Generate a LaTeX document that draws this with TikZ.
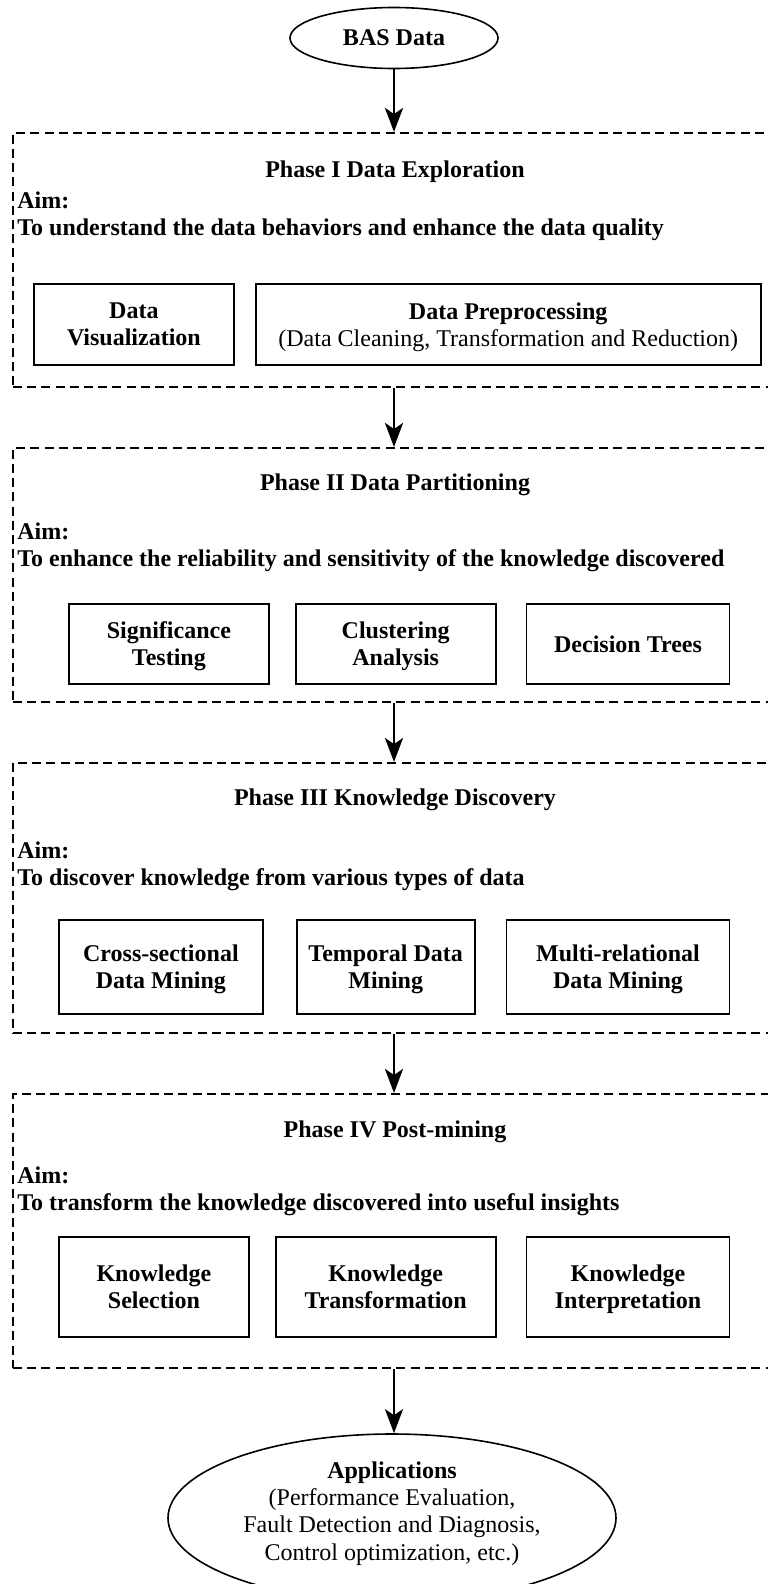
\documentclass[tikz,border=0pt]{standalone}
\usepackage{fontspec}
\setmainfont{Liberation Serif}
\usetikzlibrary{arrows.meta,positioning,shapes.geometric}

\begin{document}
\begin{tikzpicture}[
  x=0.5pt, y=-0.5pt,
  every node/.style={align=center, font=\fontsize{12}{13.6}\selectfont\bfseries},
  phase/.style={draw, dash pattern=on 4.5pt off 2.6pt, line width=0.9pt, minimum width=394pt, anchor=north west, inner sep=0pt},
  task/.style={draw, line width=0.9pt, minimum height=40.5pt, inner sep=2pt, text depth=0pt, anchor=north west},
  term/.style={draw, ellipse, line width=0.8pt, inner sep=0pt},
  aim/.style={anchor=north west, align=left, inner sep=0pt},
  flow/.style={-{Stealth[length=12pt, width=9pt, inset=3pt]}, line width=1.4pt},
]
  \useasboundingbox (0,0) rectangle (767,1584);

  \node[term, minimum width=104pt, minimum height=30.5pt] (bas) at (394,38) {BAS Data};

  % phase I
  \node[phase, minimum height=127pt] (p1) at (12,132) {};
  \node (t1) at (395,172) {Phase I Data Exploration};
  \node[aim] (a1) at (17,191) {Aim:\\To understand the data behaviors and enhance the data quality};
  \node[task, minimum width=100pt] (dv) at (33,283) {Data\\Visualization};
  \node[task, minimum width=252.5pt, right=10pt of dv] (dp) {Data Preprocessing\\\mdseries(Data Cleaning, Transformation and Reduction)};

  % phase II
  \node[phase, minimum height=127pt] (p2) at (12,447) {};
  \node (t2) at (395,485) {Phase II Data Partitioning};
  \node[aim] (a2) at (17,522) {Aim:\\To enhance the reliability and sensitivity of the knowledge discovered};
  \node[task, minimum width=100pt, minimum height=40pt] (sig) at (68,603) {Significance\\Testing};
  \node[task, minimum width=100pt, minimum height=40pt, right=12.5pt of sig] (clu) {Clustering\\Analysis};
  \node[task, minimum width=101.5pt, minimum height=40pt, right=14.5pt of clu] (dec) {Decision Trees};

  % phase III
  \node[phase, minimum height=135pt] (p3) at (12,762) {};
  \node (t3) at (395,800) {Phase III Knowledge Discovery};
  \node[aim] (a3) at (17,841) {Aim:\\To discover knowledge from various types of data};
  \node[task, minimum width=102pt, minimum height=47pt] (csm) at (58,919) {Cross-sectional\\Data Mining};
  \node[task, minimum width=89pt, minimum height=47pt, right=16pt of csm] (tdm) {Temporal Data\\Mining};
  \node[task, minimum width=111.5pt, minimum height=47pt, right=15pt of tdm] (mrm) {Multi-relational\\Data Mining};

  % phase IV
  \node[phase, minimum height=137pt] (p4) at (12,1093) {};
  \node (t4) at (395,1132) {Phase IV Post-mining};
  \node[aim] (a4) at (17,1166) {Aim:\\To transform the knowledge discovered into useful insights};
  \node[task, minimum width=95pt, minimum height=50pt] (ks) at (58,1236) {Knowledge\\Selection};
  \node[task, minimum width=110pt, minimum height=50pt, right=12.5pt of ks] (kt) {Knowledge\\Transformation};
  \node[task, minimum width=101.5pt, minimum height=50pt, right=14.5pt of kt] (ki) {Knowledge\\Interpretation};

  \node[term, minimum width=224pt, minimum height=84pt, text depth=7pt] (app) at (392,1518) {Applications\\\mdseries(Performance Evaluation,\\\mdseries Fault Detection and Diagnosis,\\\mdseries Control optimization, etc.)};

  \draw[flow] (bas) -- (bas |- p1.north);
  \draw[flow] (p1.south -| bas) -- (p2.north -| bas);
  \draw[flow] (p2.south -| bas) -- (p3.north -| bas);
  \draw[flow] (p3.south -| bas) -- (p4.north -| bas);
  \draw[flow] (p4.south -| bas) -- (bas |- app.north);
\end{tikzpicture}
\end{document}
